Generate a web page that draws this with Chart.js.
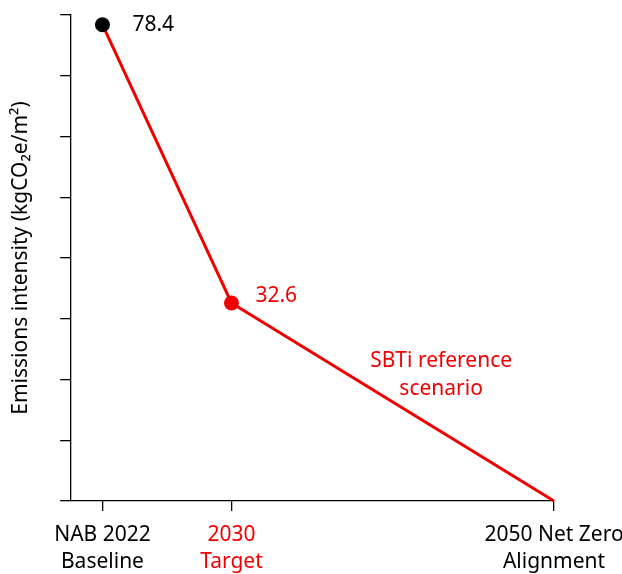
<!DOCTYPE html>
<html>
<head>
<meta charset="utf-8">
<script src="https://cdn.jsdelivr.net/npm/chart.js@4.4.1/dist/chart.umd.min.js"></script>
<style>
  html, body { margin: 0; padding: 0; background: #fff; }
  #wrap { width: 622px; height: 574px; }
</style>
</head>
<body>
<div id="wrap"><canvas id="c" width="622" height="574"></canvas></div>
<script>
// ---- data ----
const years = [2022, 2030, 2050];
const intensity = [78.4, 32.6, 0];
const tickLabels = [["NAB 2022", "Baseline"], ["2030", "Target"], ["2050 Net Zero", "Alignment"]];
const valueLabels = ["78.4", "32.6", null];
const scenarioText = ["SBTi reference", "scenario"];
const scenarioAnchor = [2043, 23];
const yTitle = "Emissions intensity (kgCO\u2082e/m\u00B2)";

const RED = "#f00000";
const BLACK = "#000000";
const FONT = "'Noto Sans', 'DejaVu Sans', sans-serif";

const tickColors = [BLACK, RED, BLACK];
const labelColors = [BLACK, RED, null];
const labelOffsets = [[30, 0], [24, -7], [0, 0]];

const labelPlugin = {
  id: 'labels',
  afterDatasetsDraw(chart) {
    const ctx = chart.ctx;
    const meta = chart.getDatasetMeta(0);
    ctx.save();
    ctx.font = "21px " + FONT;
    ctx.textBaseline = "middle";
    ctx.textAlign = "left";
    meta.data.forEach((pt, i) => {
      if (!valueLabels[i]) return;
      ctx.fillStyle = labelColors[i];
      ctx.fillText(valueLabels[i], pt.x + labelOffsets[i][0], pt.y + labelOffsets[i][1]);
    });
    const xs = chart.scales.x, ys = chart.scales.y;
    const cx = xs.getPixelForValue(scenarioAnchor[0]);
    const cy = ys.getPixelForValue(scenarioAnchor[1]);
    ctx.textAlign = "center";
    ctx.fillStyle = RED;
    scenarioText.forEach((t, i) => ctx.fillText(t, cx, cy + i * 28));
    ctx.restore();
  }
};

new Chart(document.getElementById('c'), {
  type: 'line',
  data: {
    datasets: [{
      data: years.map((y, i) => ({ x: y, y: intensity[i] })),
      borderColor: RED,
      borderWidth: 3,
      pointRadius: [7.5, 7.5, 0],
      pointHoverRadius: [7.5, 7.5, 0],
      pointBackgroundColor: [BLACK, RED, RED],
      pointBorderColor: [BLACK, RED, RED],
      pointBorderWidth: 0,
      tension: 0,
      clip: false
    }]
  },
  options: {
    responsive: false,
    animation: false,
    devicePixelRatio: 1,
    layout: { padding: { top: 15, right: 68, left: 0, bottom: 0 } },
    plugins: { legend: { display: false }, tooltip: { enabled: false } },
    scales: {
      x: {
        type: 'linear',
        min: 2020,
        max: 2050,
        afterBuildTicks: (scale) => { scale.ticks = years.map(v => ({ value: v })); },
        afterFit: (scale) => { scale.height = 73; scale.paddingRight = 0; scale.paddingLeft = 0; },
        grid: { drawOnChartArea: false, drawTicks: true, tickLength: 10, color: BLACK, lineWidth: 1.3 },
        border: { display: true, color: BLACK, width: 1.3 },
        ticks: {
          autoSkip: false,
          maxRotation: 0,
          padding: 11,
          font: { family: FONT, size: 21, lineHeight: 1.28 },
          color: (c) => tickColors[c.index],
          callback: (v, i) => tickLabels[i]
        }
      },
      y: {
        min: 0,
        max: 80,
        afterFit: (scale) => { scale.paddingTop = 0; scale.paddingBottom = 0; },
        grid: { drawOnChartArea: false, drawTicks: true, tickLength: 10, color: BLACK, lineWidth: 1.3 },
        border: { display: true, color: BLACK, width: 1.3 },
        ticks: { display: false, stepSize: 10 },
        title: {
          display: true,
          text: yTitle,
          color: BLACK,
          font: { family: FONT, size: 21, lineHeight: 1.2 },
          padding: { top: 8, bottom: 27 }
        }
      }
    }
  },
  plugins: [labelPlugin]
});
</script>
</body>
</html>
